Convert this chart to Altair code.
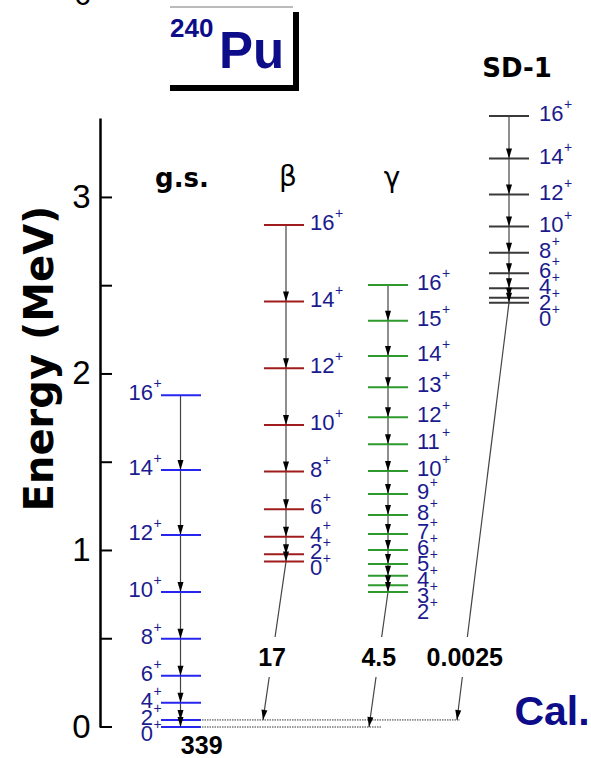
import math
import altair as alt
import pandas as pd

# ---------------- data ----------------
gs_spins = [0, 2, 4, 6, 8, 10, 12, 14, 16]
gs_energies = [0.000, 0.040, 0.137, 0.290, 0.500, 0.765, 1.088, 1.456, 1.880]

beta_spins = [0, 2, 4, 6, 8, 10, 12, 14, 16]
beta_energies = [0.937, 0.978, 1.078, 1.233, 1.447, 1.711, 2.032, 2.410, 2.844]

gamma_spins = [2, 3, 4, 5, 6, 7, 8, 9, 10, 11, 12, 13, 14, 15, 16]
gamma_energies = [0.765, 0.803, 0.857, 0.924, 1.003, 1.093, 1.201, 1.320,
                  1.450, 1.602, 1.755, 1.925, 2.102, 2.302, 2.504]

sd_spins = [0, 2, 4, 6, 8, 10, 12, 14, 16]
sd_energies = [2.404, 2.432, 2.486, 2.571, 2.687, 2.835, 3.016, 3.220, 3.462]

band_names = ["g.s.", "β", "γ", "SD-1"]
# inter-band transitions to the ground band: (band, from spin, to g.s. spin, value)
link_bands = ["β", "γ", "SD-1"]
link_from_spin = [0, 2, 0]
link_to_spin = [2, 0, 2]
link_values = ["17", "4.5", "0.0025"]
gs_value = "339"

axis_tick_values = [0, 0.5, 1, 1.5, 2, 2.5, 3]
axis_label_values = [0, 1, 2, 3]

# ---------------- layout ----------------
W, H = 491, 609
YMAX = 3.45
PX = H / YMAX  # pixels per MeV
LFS = 22       # level label font size
DIGW = 0.556 * LFS

bands = {
    "g.s.": dict(spins=gs_spins, E=gs_energies, x1=61, x2=101, xa=80.5,
                 color="#2626f0", labx=53, align="right"),
    "β": dict(spins=beta_spins, E=beta_energies, x1=164, x2=204, xa=186,
              color="#a01c1c", labx=210, align="left"),
    "γ": dict(spins=gamma_spins, E=gamma_energies, x1=268, x2=308, xa=288,
              color="#2e9a2e", labx=317, align="left"),
    "SD-1": dict(spins=sd_spins, E=sd_energies, x1=389, x2=429, xa=409,
                 color="#3a3a3a", labx=439, align="left"),
}
tip_x = {"β": 163, "γ": 269, "SD-1": 357}
dotted_end = {2: 360, 0: 282}
gap_hi, gap_lo, link_label_E = 90 / PX, 50 / PX, 69.5 / PX

LABEL_COL = "#1b1b8f"
NAVY = "#0d0d8a"
HEAD = "M -0.6 -2 L 0.6 -2 L 0 0 Z"


def label_positions(energies, offset_px=2, gap_px=16):
    order = sorted(range(len(energies)), key=lambda i: -energies[i])
    pos = [0.0] * len(energies)
    prev = None
    for i in order:
        y = energies[i] + offset_px / PX
        if prev is not None and y > prev - gap_px / PX:
            y = prev - gap_px / PX
        pos[i] = y
        prev = y
    return pos


levels, labels_l, labels_r, plus_rows, segs, heads = [], [], [], [], [], []
for name, b in bands.items():
    lab = label_positions(b["E"])
    for s, e, le in zip(b["spins"], b["E"], lab):
        levels.append(dict(x=b["x1"], x2=b["x2"], E=e, color=b["color"]))
        txt = str(s)
        if b["align"] == "right":
            labels_r.append(dict(x=b["labx"], E=le, t=txt))
            plus_rows.append(dict(x=b["labx"] + 0.5, E=le + 9 / PX, t="+"))
        else:
            labels_l.append(dict(x=b["labx"], E=le, t=txt))
            plus_rows.append(dict(x=b["labx"] + len(txt) * DIGW + 0.5, E=le + 9 / PX, t="+"))
    es = sorted(b["E"])
    for lo, hi in zip(es[:-1], es[1:]):
        segs.append(dict(x=b["xa"], x2=b["xa"], E=hi, E2=lo))
        heads.append(dict(x=b["xa"], E=lo, angle=0.0))

link_labels = []
gs_lookup = dict(zip(gs_spins, gs_energies))
for bn, fs, ts, val in zip(link_bands, link_from_spin, link_to_spin, link_values):
    b = bands[bn]
    x0, e0 = b["xa"], dict(zip(b["spins"], b["E"]))[fs]
    x1, e1 = tip_x[bn], gs_lookup[ts]

    def xi(e):
        return x0 + (x1 - x0) * (e0 - e) / (e0 - e1)

    segs.append(dict(x=x0, x2=xi(gap_hi), E=e0, E2=gap_hi))
    segs.append(dict(x=xi(gap_lo), x2=x1, E=gap_lo, E2=e1))
    ang = math.degrees(math.atan2(-(x1 - x0), (e0 - e1) * PX)) % 360
    heads.append(dict(x=x1, E=e1, angle=ang))
    link_labels.append(dict(x=xi(link_label_E), E=link_label_E, t=val))

link_labels.append(dict(x=101.7, E=-19 / PX, t=gs_value))

dotted = [dict(x=bands["g.s."]["x2"] + 1, x2=dotted_end[s], E=gs_lookup[s]) for s in (2, 0)]
ticks = [dict(x=0, x2=12, E=v) for v in axis_tick_values]

xs = alt.Scale(domain=[0, W], nice=False, zero=False)
ys = alt.Scale(domain=[0, YMAX], nice=False, zero=False)
yaxis = alt.Axis(values=axis_label_values, title="Energy (MeV)", grid=False,
                 ticks=False, tickSize=0, domainColor="black", domainWidth=2.5,
                 labelFontSize=33, labelFont="Liberation Sans", labelColor="black",
                 labelPadding=10, labelFlush=False,
                 titleFont="DejaVu Sans", titleFontSize=40, titleFontWeight="bold",
                 titleColor="black", titleX=-60, titleY=240, titleAngle=270,
                 titleAlign="center", titleBaseline="middle")


def X(f):
    return alt.X(f, type="quantitative", scale=xs, axis=None)


def Y(f):
    return alt.Y(f, type="quantitative", scale=ys, axis=yaxis)


def df(rows):
    return alt.Data(values=rows)


tick_layer = alt.Chart(df(ticks)).mark_rule(color="black", strokeWidth=2).encode(
    x=X("x"), x2=alt.X2("x2"), y=Y("E"))

dot_layer = alt.Chart(df(dotted)).mark_rule(color="#333", strokeWidth=1, strokeDash=[1.5, 1]).encode(
    x=X("x"), x2=alt.X2("x2"), y=Y("E"))

seg_layer = alt.Chart(df(segs)).mark_rule(color="#444444", strokeWidth=1.2).encode(
    x=X("x"), x2=alt.X2("x2"), y=Y("E"), y2=alt.Y2("E2"))

level_layer = alt.Chart(df(levels)).mark_rule(strokeWidth=2).encode(
    x=X("x"), x2=alt.X2("x2"), y=Y("E"), color=alt.Color("color:N", scale=None))

head_layer = alt.Chart(df(heads)).mark_point(shape=HEAD, filled=True, color="black",
                                             size=100, opacity=1, strokeWidth=0).encode(
    x=X("x"), y=Y("E"), angle=alt.Angle("angle:Q", scale=None))

lab_l = alt.Chart(df(labels_l)).mark_text(align="left", baseline="middle", font="Liberation Sans",
                                         fontSize=LFS, color=LABEL_COL).encode(
    x=X("x"), y=Y("E"), text="t:N")
lab_r = alt.Chart(df(labels_r)).mark_text(align="right", baseline="middle", font="Liberation Sans",
                                         fontSize=LFS, color=LABEL_COL).encode(
    x=X("x"), y=Y("E"), text="t:N")
plus_layer = alt.Chart(df(plus_rows)).mark_text(align="left", baseline="middle", font="Liberation Sans",
                                               fontSize=14, color=LABEL_COL).encode(
    x=X("x"), y=Y("E"), text="t:N")

link_lab = alt.Chart(df(link_labels)).mark_text(align="center", baseline="middle", font="Liberation Sans",
                                               fontSize=25, fontWeight="bold", color="black").encode(
    x=X("x"), y=Y("E"), text="t:N")

# headers
hdr_bold = alt.Chart(df([dict(x=82, E=(727 - 187) / PX, t=band_names[0]),
                         dict(x=417, E=(727 - 77) / PX, t=band_names[3])])).mark_text(
    align="center", baseline="alphabetic", font="DejaVu Sans", fontSize=26, fontWeight="bold",
    color="black").encode(x=X("x"), y=Y("E"), text="t:N")
hdr_greek = alt.Chart(df([dict(x=188, E=(727 - 186) / PX, t=band_names[1]),
                          dict(x=292, E=(727 - 187) / PX, t=band_names[2])])).mark_text(
    align="center", baseline="alphabetic", font="DejaVu Sans", fontSize=28,
    color="black").encode(x=X("x"), y=Y("E"), text="t:N")

# title box "240Pu"
box_shadow = alt.Chart(df([dict(x=70, x2=199, E=(727 - 12) / PX, E2=(727 - 91) / PX)])).mark_rect(
    color="black").encode(x=X("x"), x2=alt.X2("x2"), y=Y("E"), y2=alt.Y2("E2"))
box_white = alt.Chart(df([dict(x=70, x2=193, E=(727 - 7) / PX, E2=(727 - 85) / PX)])).mark_rect(
    color="white").encode(x=X("x"), x2=alt.X2("x2"), y=Y("E"), y2=alt.Y2("E2"))
box_top = alt.Chart(df([dict(x=70, x2=193, E=(727 - 7) / PX)])).mark_rule(
    color="#777", strokeWidth=1).encode(x=X("x"), x2=alt.X2("x2"), y=Y("E"))
t240 = alt.Chart(df([dict(x=70, E=(727 - 29) / PX, t="240")])).mark_text(
    align="left", baseline="middle", font="Liberation Sans", fontSize=26, fontWeight="bold",
    color=NAVY).encode(x=X("x"), y=Y("E"), text="t:N")
tPu = alt.Chart(df([dict(x=119, E=(727 - 68) / PX, t="Pu")])).mark_text(
    align="left", baseline="alphabetic", font="Liberation Sans", fontSize=51, fontWeight="bold",
    color=NAVY).encode(x=X("x"), y=Y("E"), text="t:N")
tCal = alt.Chart(df([dict(x=452, E=(727 - 725) / PX, t="Cal.")])).mark_text(
    align="center", baseline="alphabetic", font="Liberation Sans", fontSize=41, fontWeight="bold",
    color=NAVY).encode(x=X("x"), y=Y("E"), text="t:N")
tcut = alt.Chart(df([dict(x=-17.5, E=(727 - 5) / PX, t="6")])).mark_text(
    align="center", baseline="alphabetic", font="Liberation Sans", fontSize=30,
    color="black").encode(x=X("x"), y=Y("E"), text="t:N")

chart = alt.layer(
    tick_layer, dot_layer, seg_layer, level_layer, head_layer,
    lab_l, lab_r, plus_layer, link_lab, hdr_bold, hdr_greek,
    box_shadow, box_white, box_top, t240, tPu, tCal, tcut,
).properties(
    width=W, height=H,
    autosize=alt.AutoSizeParams(type="none"),
    padding={"left": 100, "top": 118, "right": 0, "bottom": 31},
    background="white",
).configure_view(stroke=None)

chart.save("out.html", embed_options={"renderer": "svg", "actions": False})
